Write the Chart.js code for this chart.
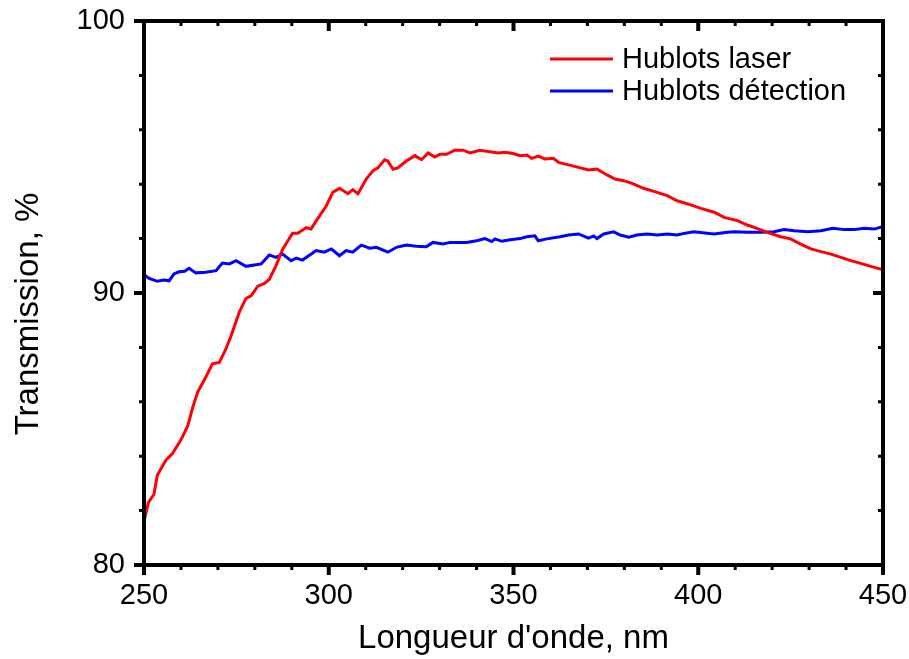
<!DOCTYPE html>
<html>
<head>
<meta charset="utf-8">
<script src="https://cdn.jsdelivr.net/npm/chart.js@4"></script>
<style>
html,body{margin:0;padding:0;background:#fff;}
#wrap{width:909px;height:659px;position:relative;}
</style>
</head>
<body>
<div id="wrap"><canvas id="c" width="909" height="659"></canvas></div>
<script>
// Wavelength (nm) and transmission (%)
const laserX = [250.0,251.2,252.7,253.6,255.9,257.7,260.0,261.8,263.2,264.5,266.7,268.5,270.4,272.2,273.5,275.8,277.6,279.0,280.8,282.6,283.9,285.7,287.5,290.2,291.6,293.9,295.2,296.6,299.3,301.1,302.9,305.2,306.5,307.9,310.2,312.0,313.3,315.1,316.0,317.4,318.7,321.0,323.3,325.1,326.9,328.7,330.1,331.9,334.1,336.4,338.2,340.9,343.2,345.9,347.7,349.9,351.8,353.6,354.9,356.7,358.5,360.8,362.2,364.9,367.6,370.3,372.6,375.3,377.5,379.8,382.1,385.2,388.9,391.6,394.3,398.0,400.7,404.3,407.0,410.6,413.3,416.4,418.7,422.3,425.0,427.7,430.5,433.2,435.9,438.6,441.3,444.0,446.7,450.0];
const laserY = [81.6,82.3,82.6,83.3,83.85,84.1,84.6,85.1,85.8,86.35,86.9,87.4,87.45,87.95,88.4,89.3,89.8,89.9,90.25,90.35,90.5,91.0,91.6,92.2,92.2,92.4,92.35,92.65,93.2,93.7,93.85,93.65,93.8,93.65,94.2,94.5,94.6,94.9,94.85,94.55,94.6,94.85,95.05,94.9,95.15,95.0,95.1,95.1,95.25,95.25,95.15,95.25,95.2,95.15,95.17,95.13,95.05,95.07,94.95,95.03,94.93,94.95,94.8,94.71,94.62,94.52,94.56,94.34,94.19,94.13,94.03,93.85,93.7,93.58,93.39,93.24,93.11,92.97,92.78,92.66,92.5,92.35,92.23,92.07,91.99,91.8,91.62,91.52,91.43,91.31,91.19,91.09,90.98,90.85];
const detX = [250.0,251.4,253.6,255.4,256.8,258.1,259.5,261.0,262.2,264.0,266.7,269.5,271.2,273.1,274.9,277.6,279.9,281.7,283.9,285.7,287.5,289.8,291.2,292.9,296.6,298.8,300.7,302.9,304.7,306.5,308.8,311.1,312.9,316.0,318.3,321.0,323.7,326.4,328.2,330.9,332.8,337.3,340.0,342.3,344.1,345.0,346.8,349.1,351.8,353.6,355.8,356.7,359.0,362.6,364.9,367.6,370.3,371.7,372.6,374.4,377.1,378.9,381.2,383.4,386.1,388.9,391.6,394.3,396.5,398.8,402.4,404.3,407.9,409.7,413.3,416.9,420.5,423.2,426.0,429.6,433.2,436.4,439.5,442.2,444.9,447.6,449.5,450.0];
const detY = [90.66,90.54,90.43,90.48,90.45,90.7,90.78,90.8,90.91,90.74,90.76,90.82,91.1,91.07,91.19,90.98,91.03,91.07,91.4,91.31,91.43,91.19,91.28,91.21,91.56,91.5,91.62,91.37,91.56,91.5,91.76,91.65,91.68,91.5,91.68,91.76,91.72,91.7,91.86,91.8,91.86,91.86,91.92,92.0,91.89,91.99,91.9,91.96,92.0,92.07,92.1,91.92,91.99,92.07,92.13,92.17,92.02,92.1,92.0,92.17,92.25,92.13,92.05,92.13,92.17,92.13,92.17,92.13,92.2,92.25,92.2,92.17,92.23,92.25,92.23,92.23,92.25,92.33,92.29,92.25,92.29,92.38,92.33,92.33,92.38,92.35,92.42,92.38];
const seriesLabels = ["Hublots laser", "Hublots détection"];
const xMajorTicks = [250, 300, 350, 400, 450];
const yMajorTicks = [80, 90, 100];
const yTitle = 'Transmission, %';

const FONT = "'Liberation Sans', Arial, sans-serif";
const toPts = (xs, ys) => xs.map((x, i) => ({x: x, y: ys[i]}));

const frameTicks = {
  id: 'frameTicks',
  afterDatasetsDraw(chart) {
    const {ctx, chartArea: a, scales} = chart;
    const xs = scales.x, ys = scales.y;
    ctx.save();
    ctx.strokeStyle = '#000';
    ctx.lineCap = 'butt';
    for (let v = xs.min; v <= xs.max + 1e-9; v += 10) {
      const px = xs.getPixelForValue(v);
      const major = xMajorTicks.includes(v);
      const len = major ? 10 : 5;
      ctx.lineWidth = major ? 4 : 3;
      ctx.beginPath();
      ctx.moveTo(px, a.bottom); ctx.lineTo(px, a.bottom + len);
      ctx.moveTo(px, a.top); ctx.lineTo(px, a.top + len);
      ctx.stroke();
    }
    for (let v = ys.min; v <= ys.max + 1e-9; v += 2) {
      const py = ys.getPixelForValue(v);
      const major = yMajorTicks.includes(v);
      const len = major ? 10 : 5;
      ctx.lineWidth = major ? 4 : 3;
      ctx.beginPath();
      ctx.moveTo(a.left, py); ctx.lineTo(a.left - len, py);
      ctx.moveTo(a.right, py); ctx.lineTo(a.right - len, py);
      ctx.stroke();
    }
    ctx.lineWidth = 4;
    ctx.strokeRect(a.left, a.top, a.right - a.left, a.bottom - a.top);
    // y axis title
    ctx.save();
    ctx.fillStyle = '#000';
    ctx.font = '33px ' + FONT;
    ctx.textAlign = 'center';
    ctx.textBaseline = 'alphabetic';
    ctx.translate(38, 314);
    ctx.rotate(-Math.PI / 2);
    ctx.fillText(yTitle, 0, 0);
    ctx.restore();
    // legend
    ctx.font = '29px ' + FONT;
    ctx.textBaseline = 'middle';
    ctx.textAlign = 'left';
    const rows = [59, 91];
    chart.data.datasets.forEach((ds, i) => {
      const y = rows[i];
      ctx.strokeStyle = ds.borderColor;
      ctx.lineWidth = 3;
      ctx.beginPath(); ctx.moveTo(550, y); ctx.lineTo(613, y); ctx.stroke();
      ctx.fillStyle = '#000';
      ctx.fillText(ds.label, 622, y + 1);
    });
    ctx.restore();
  }
};

new Chart(document.getElementById('c'), {
  type: 'scatter',
  data: {
    datasets: [
      {label: seriesLabels[0], data: toPts(laserX, laserY), showLine: true, borderColor: '#ff0000', borderWidth: 3, pointRadius: 0, fill: false, tension: 0},
      {label: seriesLabels[1], data: toPts(detX, detY), showLine: true, borderColor: '#0000ff', borderWidth: 3, pointRadius: 0, fill: false, tension: 0}
    ]
  },
  options: {
    responsive: false,
    animation: false,
    layout: {padding: {top: 21, right: 26, left: 0, bottom: 0}},
    plugins: {legend: {display: false}, tooltip: {enabled: false}},
    scales: {
      x: {
        type: 'linear', min: 250, max: 450,
        afterBuildTicks: s => { s.ticks = xMajorTicks.map(v => ({value: v})); },
        afterFit: s => { s.height = 94; s.paddingLeft = 0; s.paddingRight = 0; },
        grid: {display: false, drawTicks: false},
        border: {display: false},
        ticks: {padding: 14, color: '#000', font: {family: FONT, size: 29}},
        title: {display: true, text: "Longueur d'onde, nm", color: '#000', font: {family: FONT, size: 33}, padding: {top: 0, bottom: 0}}
      },
      y: {
        type: 'linear', min: 80, max: 100,
        afterBuildTicks: s => { s.ticks = yMajorTicks.map(v => ({value: v})); },
        afterFit: s => { s.width = 144; s.paddingTop = 0; s.paddingBottom = 0; },
        grid: {display: false, drawTicks: false},
        border: {display: false},
        ticks: {padding: 19, color: '#000', font: {family: FONT, size: 29}},
        title: {display: false}
      }
    }
  },
  plugins: [frameTicks]
});
</script>
</body>
</html>
